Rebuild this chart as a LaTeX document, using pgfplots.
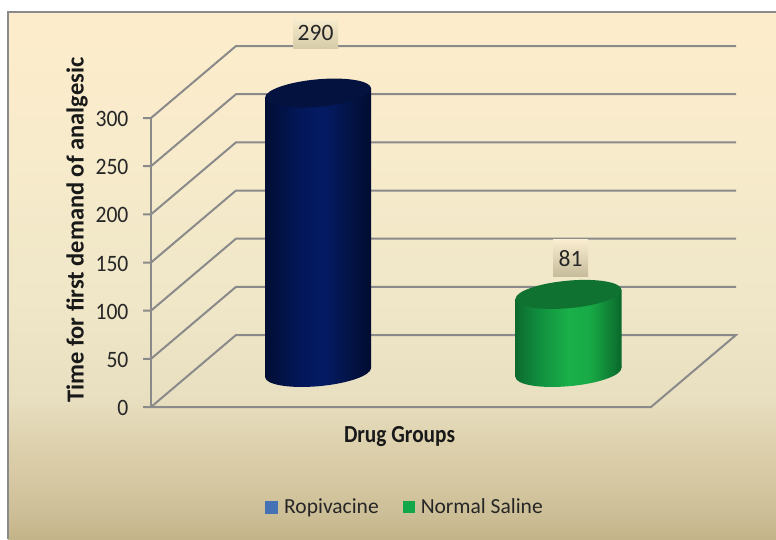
\documentclass[border=0pt]{standalone}
\usepackage{pgfplots}
\pgfplotsset{compat=1.18}
\usepackage{fontspec}
\usepackage{graphicx}
\setmainfont{Carlito}

% Panel and cylinder colours
\definecolor{gridgray}{HTML}{8A8A8A}
\definecolor{labeltext}{HTML}{262626}
\definecolor{navytop}{HTML}{03123F}
\definecolor{greentop}{HTML}{107230}
\definecolor{legendblue}{HTML}{4472B4}
\definecolor{legendgreen}{HTML}{12A84A}
\definecolor{tagtop}{HTML}{F9ECCF}
\definecolor{tagbottom}{HTML}{D6CCA8}

% Panel background, top to bottom
\pgfdeclareverticalshading{panelbg}{100bp}{
  rgb(0bp)=(0.769,0.706,0.541);
  rgb(25bp)=(0.769,0.706,0.541);
  rgb(28.7bp)=(0.816,0.765,0.612);
  rgb(33.5bp)=(0.863,0.812,0.671);
  rgb(38.2bp)=(0.910,0.875,0.753);
  rgb(47.7bp)=(0.937,0.906,0.784);
  rgb(61.9bp)=(0.969,0.922,0.796);
  rgb(75bp)=(0.992,0.925,0.796);
  rgb(100bp)=(0.992,0.925,0.796)}

% Cylinder side shadings, left to right
\pgfdeclarehorizontalshading{cylnavy}{100bp}{
  rgb(0bp)=(0.004,0.051,0.200);
  rgb(25bp)=(0.004,0.051,0.200);
  rgb(32.5bp)=(0.008,0.071,0.271);
  rgb(42.5bp)=(0.012,0.090,0.353);
  rgb(52.5bp)=(0.016,0.106,0.392);
  rgb(65bp)=(0.008,0.075,0.271);
  rgb(75bp)=(0.004,0.047,0.188);
  rgb(100bp)=(0.004,0.047,0.188)}
\pgfdeclarehorizontalshading{cylgreen}{100bp}{
  rgb(0bp)=(0.047,0.416,0.180);
  rgb(25bp)=(0.047,0.416,0.180);
  rgb(35bp)=(0.063,0.549,0.243);
  rgb(50bp)=(0.102,0.690,0.290);
  rgb(60bp)=(0.094,0.667,0.275);
  rgb(75bp)=(0.039,0.408,0.165);
  rgb(100bp)=(0.039,0.408,0.165)}

% Cylinder end caps: one unit circle projected by the axis' oblique view
\newcommand{\capellipse}{\pgfpathellipse{\pgfpointorigin}{\pgfqpoint{53pt}{4.5pt}}{\pgfqpoint{0pt}{13.8pt}}}
\pgfdeclareplotmark{captopnavy}{\capellipse\pgfsetfillcolor{navytop}\pgfusepath{fill}}
\pgfdeclareplotmark{captopgreen}{\capellipse\pgfsetfillcolor{greentop}\pgfusepath{fill}}
\pgfdeclareplotmark{capbasenavy}{\capellipse\pgfshadepath{cylnavy}{0}\pgfusepath{discard}}
\pgfdeclareplotmark{capbasegreen}{\capellipse\pgfshadepath{cylgreen}{0}\pgfusepath{discard}}

\begin{document}
\begin{tikzpicture}[x=1pt,y=1pt]
  \path[use as bounding box] (0,0) rectangle (776,539);
  \fill[white] (0,0) rectangle (776,539);
  \path[shade,shading=panelbg] (8,0) rectangle (776,527);
  \draw[color=gridgray,line width=2pt] (8,0) -- (8,527) -- (776,527);

  \begin{axis}[
    at={(151pt,132pt)}, anchor=origin,
    x={(1pt,0pt)}, y={(0.85pt,0.72pt)}, z={(0pt,0.9633pt)},
    xmin=0, xmax=500, ymin=0, ymax=100, zmin=0, zmax=300,
    clip=false,
    axis x line=none, axis y line=none, axis z line=left,
    axis line style={color=gridgray,line width=2pt,-},
    xtick=\empty, ytick=\empty, ztick={0,50,100,150,200,250,300},
    major tick length=0pt,
    tick style={draw=none},
    z tick label style={font=\fontsize{23.5}{26}\selectfont,text=labeltext,anchor=east,xscale=0.92,xshift=-21pt,yshift=-1pt},
    /pgf/number format/assume math mode=true,
    legend columns=2,
    legend style={at={(axis cs:254,0,-103.8)},anchor=center,draw=none,fill=none,
      font=\fontsize{21.5}{24}\selectfont,text=labeltext,
      /tikz/every odd column/.append style={column sep=5pt},
      /tikz/every even column/.append style={column sep=22pt}},
    nodes near coords={\pgfmathprintnumber{\pgfplotspointmeta}},
    point meta=z,
    nodes near coords style={font=\fontsize{23.5}{26}\selectfont,text=labeltext,
      anchor=center,inner sep=0pt},
  ]
    % Wall and floor rules at every value step, with their ticks
    \pgfplotsset{every axis plot/.append style={nodes near coords={}}}
    \addplot3[forget plot,gridgray,line width=2pt] coordinates {(-8,0,0)(500,0,0)(500,100,0)(0,100,0)(0,0,0)};
    \addplot3[forget plot,gridgray,line width=2pt] coordinates {(-8,0,50)(0,0,50)(0,100,50)(500,100,50)};
    \addplot3[forget plot,gridgray,line width=2pt] coordinates {(-8,0,100)(0,0,100)(0,100,100)(500,100,100)};
    \addplot3[forget plot,gridgray,line width=2pt] coordinates {(-8,0,150)(0,0,150)(0,100,150)(500,100,150)};
    \addplot3[forget plot,gridgray,line width=2pt] coordinates {(-8,0,200)(0,0,200)(0,100,200)(500,100,200)};
    \addplot3[forget plot,gridgray,line width=2pt] coordinates {(-8,0,250)(0,0,250)(0,100,250)(500,100,250)};
    \addplot3[forget plot,gridgray,line width=2pt] coordinates {(-8,0,300)(0,0,300)(0,100,300)(500,100,300)};

    % Ropivacine cylinder
    \addplot3[forget plot,only marks,mark=capbasenavy] coordinates {(126.3,48,0)};
    \addplot3[forget plot,draw=none,shade,shading=cylnavy] coordinates {(78.6,41.75,0)(78.6,41.75,290)(174,54.25,290)(174,54.25,0)} --cycle;
    \addplot3[forget plot,only marks,mark=captopnavy,
      nodes near coords={\pgfmathprintnumber{\pgfplotspointmeta}},
      nodes near coords style={shade,top color=tagtop,bottom color=tagbottom,minimum width=45pt,minimum height=30pt,xshift=-2.5pt,yshift=60pt}]
      coordinates {(126.3,48,290)};

    % Normal Saline cylinder
    \addplot3[forget plot,only marks,mark=capbasegreen] coordinates {(376.7,48,0)};
    \addplot3[forget plot,draw=none,shade,shading=cylgreen] coordinates {(329,41.75,0)(329,41.75,81)(424.4,54.25,81)(424.4,54.25,0)} --cycle;
    \addplot3[forget plot,only marks,mark=captopgreen,
      nodes near coords={\pgfmathprintnumber{\pgfplotspointmeta}},
      nodes near coords style={shade,top color=tagtop,bottom color=tagbottom!92!black,minimum width=35pt,minimum height=37pt,xshift=2pt,yshift=36pt}]
      coordinates {(376.7,48,81)};

    \addlegendimage{only marks,mark=square*,mark size=6pt,color=legendblue}
    \addlegendentry{Ropivacine}
    \addlegendimage{only marks,mark=square*,mark size=5.5pt,color=legendgreen}
    \addlegendentry{Normal Saline}
  \end{axis}

  % Axis titles
  \node[font=\bfseries\fontsize{24.5}{28}\selectfont,text=black!90] at (399.5,102.5) {\scalebox{0.87}[1]{Drug Groups}};
  \node[font=\bfseries\fontsize{24.5}{28}\selectfont,text=black!90,rotate=90] at (77,309) {Time for first demand of analgesic};
\end{tikzpicture}
\end{document}
